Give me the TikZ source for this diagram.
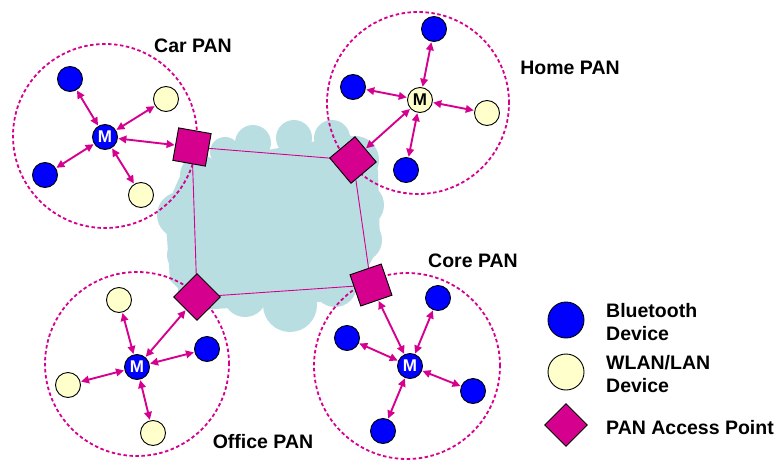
\documentclass[tikz,border=0pt]{standalone}
\usepackage{fontspec}
\setmainfont{Liberation Sans}
\usetikzlibrary{arrows.meta}

\definecolor{panmag}{RGB}{214,0,143}
\definecolor{btblue}{RGB}{0,0,255}
\definecolor{wlanyel}{RGB}{255,255,204}
\definecolor{cloudc}{RGB}{185,222,226}

\pgfdeclarelayer{cloudlayer}
\pgfdeclarelayer{linklayer}
\pgfsetlayers{cloudlayer,linklayer,main}

\tikzset{
  dev/.style={circle, draw=black, line width=0.9pt, minimum size=25pt, inner sep=0pt,
              font=\fontsize{17}{17}\selectfont\bfseries},
  bt/.style={dev, fill=btblue, text=white},
  wlan/.style={dev, fill=wlanyel, text=black},
  ap/.style={rectangle, draw=black, line width=0.9pt, fill=panmag, minimum size=33pt, inner sep=0pt},
  link/.style={draw=panmag, line width=0.9pt},
  radio/.style={draw=panmag, line width=1.9pt,
                {Triangle[length=8pt,width=7.5pt]}-{Triangle[length=8pt,width=7.5pt]},
                shorten <=0.5pt, shorten >=0.5pt},
  zone/.style={draw=panmag, line width=1.8pt, dash pattern=on 3.5pt off 2.5pt},
  lbl/.style={font=\fontsize{19.5}{23}\selectfont\bfseries, inner sep=0pt},
}

\begin{document}
\begin{tikzpicture}[x=1pt,y=-1pt]
\useasboundingbox (0,0) rectangle (779,460);

% backbone cloud
\begin{pgfonlayer}{cloudlayer}
\begin{scope}[fill=cloudc]
  \fill (185,165) -- (350,135) -- (378,170) -- (380,245) -- (350,300)
        -- (200,310) -- (170,280) -- (165,210) -- cycle;
  \foreach \cx/\cy/\r in {253/143/18, 294/138/18, 332/138/18, 355/160/24,
                          362/205/22, 360/240/22, 335/285/22, 290/305/27,
                          245/295/22, 200/290/22, 185/255/18, 180/215/23,
                          200/175/20, 225/152/15}
    \fill (\cx,\cy) circle[radius=\r pt];
\end{scope}
\end{pgfonlayer}

% PAN boundaries
\draw[zone] (105,136) circle[radius=92pt];
\draw[zone] (418,103) circle[radius=91pt];
\draw[zone] (137,364) circle[radius=92pt];
\draw[zone] (407,366) circle[radius=93pt];

% access points
\node[ap, rotate=-10] (cAP) at (192,147) {};
\node[ap, rotate=40]  (hAP) at (353,160) {};
\node[ap, rotate=45]  (oAP) at (197,297) {};
\node[ap, rotate=19]  (kAP) at (371,285) {};

% backbone links between access points
\begin{pgfonlayer}{linklayer}
\draw[link] (cAP.center) -- (hAP.center) -- (kAP.center) -- (oAP.center) -- cycle;
\end{pgfonlayer}

% Car PAN
\node[bt]   (cM)  at (105,137) {M};
\node[bt]   (cB1) at (70,79)   {};
\node[wlan] (cW1) at (166,99)  {};
\node[bt]   (cB2) at (45,175)  {};
\node[wlan] (cW2) at (141,195) {};
\foreach \d in {cB1,cW1,cB2,cW2,cAP} \draw[radio] (cM) -- (\d);

% Home PAN
\node[wlan] (hM)  at (420,100) {M};
\node[bt]   (hB1) at (434,29)  {};
\node[bt]   (hB2) at (353,87)  {};
\node[wlan] (hW1) at (487,113) {};
\node[bt]   (hB3) at (406,170) {};
\foreach \d in {hB1,hB2,hW1,hB3,hAP} \draw[radio] (hM) -- (\d);

% Office PAN
\node[bt]   (oM)  at (137,367) {M};
\node[wlan] (oW1) at (119,300) {};
\node[bt]   (oB1) at (207,349) {};
\node[wlan] (oW2) at (68,385)  {};
\node[wlan] (oW3) at (153,433) {};
\foreach \d in {oW1,oB1,oW2,oW3,oAP} \draw[radio] (oM) -- (\d);

% Core PAN
\node[bt] (kM)  at (410,366) {M};
\node[bt] (kB1) at (438,298) {};
\node[bt] (kB2) at (347,338) {};
\node[bt] (kB3) at (473,391) {};
\node[bt] (kB4) at (383,431) {};
\foreach \d in {kB1,kB2,kB3,kB4,kAP} \draw[radio] (kM) -- (\d);

% PAN names
\node[lbl] (tCar)    at (193,46)  {Car PAN};
\node[lbl] (tHome)   at (570,68)  {Home PAN};
\node[lbl] (tOffice) at (263,442) {Office PAN};
\node[lbl] (tCore)   at (473,261) {Core PAN};

% legend
\node[bt, minimum size=36pt]   (lgB)  at (566,320) {};
\node[wlan, minimum size=36pt] (lgW)  at (566,372) {};
\node[ap, minimum size=30pt, rotate=45] (lgAP) at (566,425) {};
\node[lbl, anchor=west, align=left] (tB)  at (606,322) {Bluetooth\\Device};
\node[lbl, anchor=west, align=left] (tW)  at (606,374) {WLAN/LAN\\Device};
\node[lbl, anchor=west]             (tAP) at (606,428) {PAN Access Point};
\end{tikzpicture}
\end{document}
